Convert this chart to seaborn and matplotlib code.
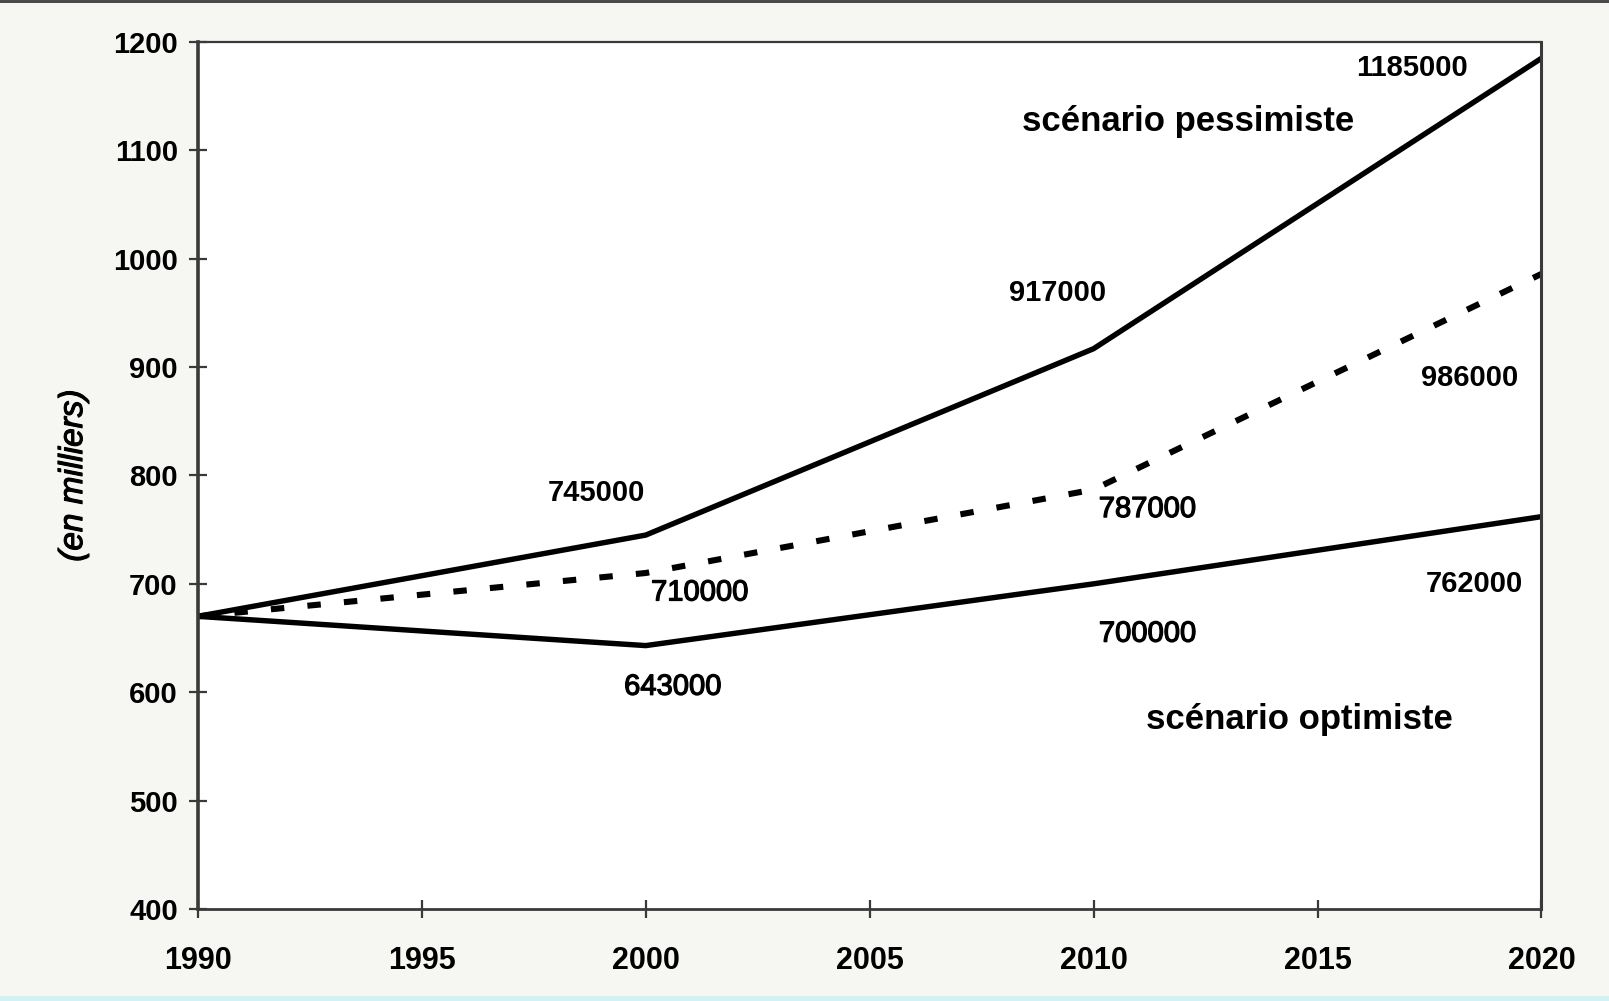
import matplotlib
matplotlib.use("Agg")
import matplotlib.pyplot as plt
import matplotlib.patheffects as pe
from matplotlib.patches import Rectangle
import seaborn as sns
import pandas as pd

# data (en milliers)
years = [1990, 2000, 2010, 2020]
pessimiste = [670, 745, 917, 1185]
tendanciel = [670, 710, 787, 986]
optimiste = [670, 643, 700, 762]

# value labels shown next to the points
labels_pess = ["745000", "917000", "1185000"]
labels_tend = ["710000", "787000", "986000"]
labels_opt = ["643000", "700000", "762000"]

df = pd.DataFrame({
    "annee": years * 3,
    "valeur": pessimiste + tendanciel + optimiste,
    "scenario": ["pessimiste"] * 4 + ["tendanciel"] * 4 + ["optimiste"] * 4,
})

sns.set_style("white")
plt.rcParams["font.family"] = ["Liberation Sans", "DejaVu Sans"]
plt.rcParams["text.color"] = "black"
plt.rcParams["axes.labelcolor"] = "black"
plt.rcParams["xtick.color"] = "black"
plt.rcParams["ytick.color"] = "black"

fig = plt.figure(figsize=(16.09, 10.01), dpi=100, facecolor="#f6f6f3")
ax = fig.add_axes([0.123, 0.092, 0.835, 0.866])
ax.set_facecolor("white")

for name in ["pessimiste", "optimiste"]:
    sns.lineplot(data=df[df.scenario == name], x="annee", y="valeur",
                 color="black", linewidth=3.9, ax=ax, legend=False)
sns.lineplot(data=df[df.scenario == "tendanciel"], x="annee", y="valeur",
             color="black", linewidth=4.4, ax=ax, legend=False)
ax.lines[-1].set_dashes((2.2, 3.8))

ax.set_xlim(1990, 2020)
ax.set_ylim(400, 1200)
ax.set_xticks(range(1990, 2021, 5))
ax.set_yticks(range(400, 1201, 100))
ax.set_xlabel("")
ax.set_ylabel("(en milliers)", fontsize=24, fontstyle="italic",
              path_effects=[pe.withStroke(linewidth=0.8, foreground="black")])
ax.yaxis.set_label_coords(-0.081, 0.5)

for s in ax.spines.values():
    s.set_visible(True)
    s.set_color("#3a3a3a")
ax.spines["left"].set_linewidth(2.6)
ax.spines["bottom"].set_linewidth(2.0)
ax.spines["top"].set_linewidth(1.6)
ax.spines["right"].set_linewidth(2.2)

ax.tick_params(axis="both", direction="inout", length=13, width=1.6,
               color="#3a3a3a", labelsize=21, bottom=True, left=True)
ax.tick_params(axis="y", pad=8)
ax.tick_params(axis="x", pad=20, labelsize=22)
for t in ax.get_xticklabels() + ax.get_yticklabels():
    t.set_fontweight("bold")

# value annotations: x, y, weight
pos_pess = [(1998.9, 784, "bold"), (2009.2, 968, "bold"), (2017.1, 1176, "bold")]
pos_tend = [(2001.2, 692, "normal"), (2011.2, 769, "normal"), (2018.4, 890, "bold")]
pos_opt = [(2000.6, 605, "normal"), (2011.2, 654, "normal"), (2018.5, 700, "bold")]
thicken = [pe.withStroke(linewidth=0.9, foreground="black")]
for labs, pos in [(labels_pess, pos_pess), (labels_tend, pos_tend), (labels_opt, pos_opt)]:
    for lab, (x, y, w) in zip(labs, pos):
        ax.text(x, y, lab, fontsize=21, fontweight=w, ha="center", va="center",
                path_effects=thicken if w == "normal" else None)

ax.text(2012.1, 1127, "scénario pessimiste", fontsize=25, fontweight="bold",
        ha="center", va="center")
ax.text(2014.6, 575, "scénario optimiste", fontsize=25, fontweight="bold",
        ha="center", va="center")

# frame decorations of the screenshot
fig.add_artist(Rectangle((0, 0.997), 1, 0.003, transform=fig.transFigure,
                         color="#4a4a4a", lw=0))
fig.add_artist(Rectangle((0, 0), 1, 0.005, transform=fig.transFigure,
                         color="#d3f1f4", lw=0))

fig.savefig("out.png", dpi=100, facecolor=fig.get_facecolor())
